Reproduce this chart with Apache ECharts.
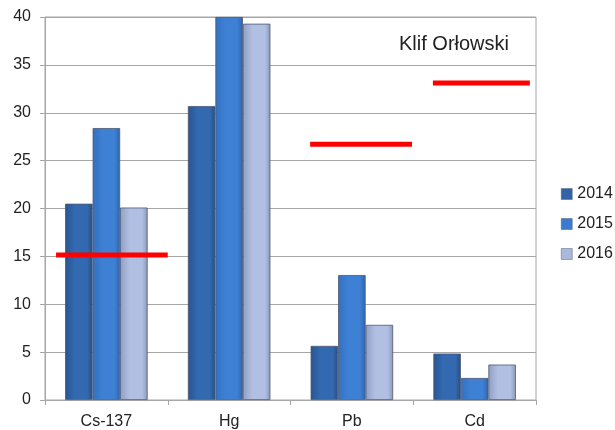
<!DOCTYPE html>
<html>
<head>
<meta charset="utf-8">
<script src="https://cdn.jsdelivr.net/npm/echarts@6/dist/echarts.min.js"></script>
<style>html,body{margin:0;padding:0;background:#fff}#c{width:615px;height:430px}</style>
</head>
<body>
<div id="c"></div>
<script>
const categories = ['Cs-137', 'Hg', 'Pb', 'Cd'];
const seriesNames = ['2014', '2015', '2016'];
const values2014 = [20.5, 30.7, 5.65, 4.85];
const values2015 = [28.4, 40.0, 13.05, 2.3];
const values2016 = [20.1, 39.3, 7.85, 3.7];
// limit values (red lines) and their extents in category units
const limitValues = [15.15, 26.7, 33.1];
const limitStarts = [0.09, 2.16, 3.16];
const limitEnds = [1.0, 2.99, 3.95];
const yTicks = [0, 5, 10, 15, 20, 25, 30, 35, 40];
const titleText = 'Klif Orłowski';

const FONT = '"Liberation Sans", Arial, sans-serif';
function grad(c0, c1, c2) {
  return new echarts.graphic.LinearGradient(0, 0, 1, 0, [
    {offset: 0, color: c0}, {offset: 0.35, color: c1}, {offset: 0.8, color: c1}, {offset: 1, color: c2}
  ]);
}
const styles = [
  {color: grad('#28558f', '#3369b0', '#25507f'), legend: '#3163a6'},
  {color: grad('#3470bf', '#3d80d4', '#2f64ad'), legend: '#3a7bd0'},
  {color: grad('#8f9fc4', '#b1c0e2', '#8a98b8'), legend: '#a9b8dc'}
];
const allValues = [values2014, values2015, values2016];

const series = allValues.map((vals, i) => ({
  name: seriesNames[i],
  type: 'bar',
  xAxisIndex: 0,
  data: vals,
  barWidth: 27.5,
  barGap: '0%',
  itemStyle: {color: styles[i].color, borderColor: '#4e5870', borderWidth: 0.8}
}));
limitValues.forEach((v, i) => {
  series.push({
    type: 'line',
    xAxisIndex: 1,
    data: [[limitStarts[i], v], [limitEnds[i], v]],
    symbol: 'none',
    lineStyle: {color: '#ff0000', width: 5},
    silent: true,
    z: 5
  });
});

const chart = echarts.init(document.getElementById('c'), null, {renderer: 'canvas'});
chart.setOption({
  animation: false,
  backgroundColor: '#ffffff',
  title: {
    text: titleText,
    left: 394, top: 29,
    textStyle: {fontFamily: FONT, fontSize: 20, fontWeight: 'normal', color: '#222'}
  },
  legend: {
    orient: 'vertical',
    left: 561, top: 186, padding: 0,
    itemWidth: 11, itemHeight: 11, itemGap: 14,
    icon: 'rect',
    data: seriesNames.map((n, i) => ({name: n, itemStyle: {color: styles[i].legend, borderColor: '#55607a', borderWidth: 0.5}})),
    textStyle: {fontFamily: FONT, fontSize: 16, color: '#222', lineHeight: 16}
  },
  grid: {
    left: 45, right: 79, top: 17, bottom: 29,
    show: true, borderColor: '#a6a6a6', borderWidth: 1
  },
  xAxis: [{
    type: 'category',
    data: categories,
    axisLine: {lineStyle: {color: '#a6a6a6', width: 1}},
    axisTick: {show: true, length: 5, lineStyle: {color: '#a6a6a6'}},
    axisLabel: {fontFamily: FONT, fontSize: 16, color: '#222', margin: 14}
  }, {
    type: 'value', min: 0, max: 4, show: false
  }],
  yAxis: {
    type: 'value', min: 0, max: 40, interval: 5,
    axisLine: {show: true, lineStyle: {color: '#a6a6a6'}},
    axisTick: {show: true, length: 5, lineStyle: {color: '#a6a6a6'}},
    splitLine: {lineStyle: {color: '#a6a6a6', width: 1}},
    axisLabel: {fontFamily: FONT, fontSize: 16, color: '#222', margin: 14,
      formatter: v => yTicks.includes(v) ? String(v) : ''}
  },
  series: series
});
</script>
</body>
</html>
